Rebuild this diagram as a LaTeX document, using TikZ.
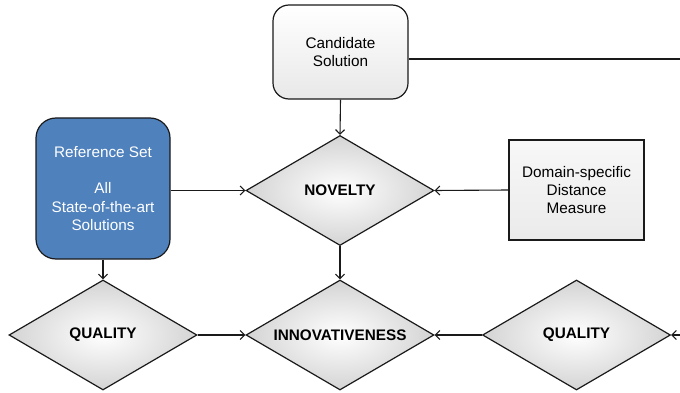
\documentclass[tikz,border=0pt]{standalone}
\usepackage{fontspec}
\setmainfont{Liberation Sans}
\usetikzlibrary{shapes.geometric,arrows.meta}
\definecolor{refblue}{HTML}{4F81BD}
\definecolor{edge}{HTML}{1A1A1A}
\tikzset{
  base/.style={font=\fontsize{15.3}{18.3}\selectfont, align=center, inner sep=0pt},
  decision/.style={base, diamond, draw=edge, line width=1.2pt, minimum width=188pt, minimum height=110pt,
    inner color=white, outer color=black!17, font=\fontsize{15.3}{18}\selectfont\bfseries},
  roundbox/.style={base, draw=edge, line width=1.2pt, rounded corners=16pt, minimum width=135pt, minimum height=94pt,
    top color=white, bottom color=black!9},
  refbox/.style={base, draw=edge, line width=1.2pt, rounded corners=20pt, minimum width=134pt, minimum height=141pt,
    fill=refblue, text=white},
  sqbox/.style={base, draw=edge, line width=1.2pt, minimum width=135pt, minimum height=100pt,
    top color=black!3, bottom color=black!8},
  conn/.style={draw=edge, line width=1.1pt, -{Straight Barb[length=4.5pt,width=9pt]}},
  plain/.style={draw=edge, line width=1.1pt}
}
\newcommand{\dtext}[1]{\makebox[0pt]{#1}}
\begin{document}
\begin{tikzpicture}[x=1pt,y=-1pt]
\useasboundingbox (0,0) rectangle (680,393);
\node[roundbox] (cand) at (340.5,52) {Candidate\\Solution};
\node[refbox] (ref) at (103,188.5) {Reference Set\\[18.3pt]All\\State-of-the-art\\Solutions};
\node[decision] (nov) at (340,190.5) {\dtext{NOVELTY}};
\node[sqbox] (dist) at (576.5,190) {Domain-specific\\Distance\\Measure};
\node[decision] (qleft) at (103,335) {\dtext{QUALITY}};
\node[decision] (inn) at (340,335) {\dtext{INNOVATIVENESS}};
\node[decision] (qright) at (576.5,335) {\dtext{QUALITY}};
\coordinate (outtop) at (680,59);
\coordinate (inright) at (680,335);
\draw[plain] (cand.east |- outtop) -- (outtop);
\draw[conn] (cand.south) -- (nov.north);
\draw[conn] (ref.east |- nov.west) -- (nov.west);
\draw[conn] (dist.west) -- (nov.east);
\draw[conn] (ref.south) -- (qleft.north);
\draw[conn] (nov.south) -- (inn.north);
\draw[conn] (qleft.east) -- (inn.west);
\draw[conn] (qright.west) -- (inn.east);
\draw[conn] (inright) -- (qright.east);
\end{tikzpicture}
\end{document}
